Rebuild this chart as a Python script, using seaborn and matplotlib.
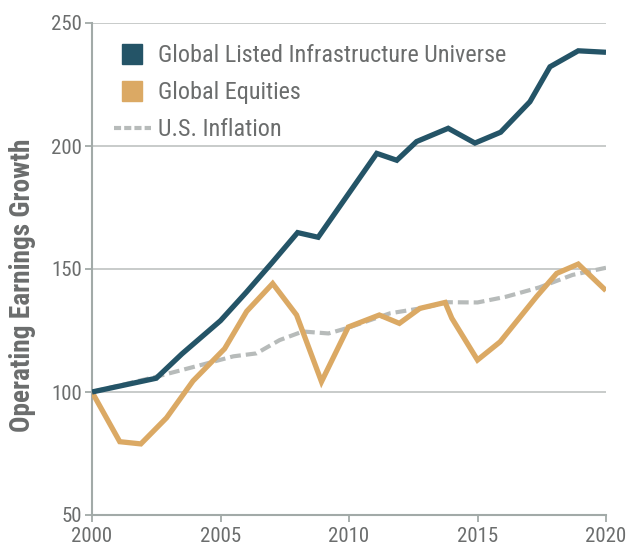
import matplotlib
matplotlib.use("Agg")
import matplotlib.pyplot as plt
from matplotlib.lines import Line2D
import seaborn as sns
import pandas as pd

# ---- data ----
infra_x = [2000, 2002.5, 2003.5, 2005, 2006, 2007, 2008, 2008.8, 2011.08, 2011.86,
           2012.63, 2013.86, 2014.9, 2015.9, 2017.04, 2017.82, 2018.92, 2020]
infra_y = [100, 105.6, 115.5, 129, 140.5, 152.5, 164.8, 162.9, 197, 194.2,
           201.8, 207.2, 201.2, 205.6, 218, 232.2, 238.7, 238.1]

equity_x = [2000, 2001.08, 2001.9, 2002.9, 2003.93, 2005.16, 2006.02, 2007.03, 2007.96,
            2008.93, 2009.97, 2011.18, 2011.96, 2012.76, 2013.74, 2014.0, 2015.0,
            2015.88, 2017.3, 2018.08, 2018.92, 2020]
equity_y = [100, 79.8, 78.9, 89.5, 104.5, 117.6, 132.8, 144.1, 131.3,
            104.2, 126.4, 131.3, 127.9, 134, 136.4, 130, 113,
            120.4, 138.8, 148.2, 152, 141.2]

infl_x = [2000, 2002.5, 2004.25, 2005.5, 2006.4, 2007.3, 2008.2, 2009.2, 2009.9,
          2011.6, 2012.9, 2013.8, 2015.0, 2016.1, 2017.4, 2018.7, 2020]
infl_y = [100, 106.2, 111, 114.5, 115.7, 121.1, 124.6, 123.8, 125.9,
          132, 134.2, 136.5, 136.4, 138.7, 142.5, 147.6, 150.5]

series_names = ["Global Listed Infrastructure Universe", "Global Equities", "U.S. Inflation"]
y_ticks = [50, 100, 150, 200, 250]
x_ticks = [2000, 2005, 2010, 2015, 2020]
y_label = "Operating Earnings Growth"

# ---- style ----
sns.set_theme(style="white")
plt.rcParams['font.family'] = ['Roboto Condensed', 'Liberation Sans Narrow', 'Roboto', 'DejaVu Sans']

C_INFRA = "#245467"
C_EQ = "#dba964"
C_INFL = "#b7bbba"
C_TEXT = "#6b6d6d"
C_AXIS = "#a2aaa8"
C_GRID = "#c4c7c6"

fig = plt.figure(figsize=(6.28, 5.46), dpi=100)
ax = fig.add_axes([92/628, 31/546, 514/628, 492/546])

df_i = pd.DataFrame({"x": infl_x, "y": infl_y})
df_e = pd.DataFrame({"x": equity_x, "y": equity_y})
df_f = pd.DataFrame({"x": infra_x, "y": infra_y})

for yv in y_ticks[1:]:
    ax.axhline(yv, color=C_GRID, lw=1.3, zorder=0)

sns.lineplot(data=df_i, x="x", y="y", ax=ax, color=C_INFL, lw=3.0, sort=False,
             dashes=False, linestyle=(0, (2.6, 1.2)), zorder=2)
sns.lineplot(data=df_e, x="x", y="y", ax=ax, color=C_EQ, lw=3.8, sort=False, zorder=3)
sns.lineplot(data=df_f, x="x", y="y", ax=ax, color=C_INFRA, lw=3.8, sort=False, zorder=4)
for ln in ax.lines:
    ln.set_solid_joinstyle("miter")
    ln.set_solid_capstyle("butt")

ax.set_xlim(2000, 2020)
ax.set_ylim(50, 250)
ax.set_xticks(x_ticks)
ax.set_yticks(y_ticks)
ax.tick_params(axis="both", colors=C_AXIS, labelcolor=C_TEXT, labelsize=15,
               length=5, width=1.3, direction="out", left=True, bottom=True)
ax.tick_params(axis="x", pad=4)
ax.tick_params(axis="y", pad=2)

for s in ["top", "right"]:
    ax.spines[s].set_visible(False)
for s in ["left", "bottom"]:
    ax.spines[s].set_color(C_AXIS)
    ax.spines[s].set_linewidth(1.5)

ax.set_xlabel("")
ax.set_ylabel(y_label, fontsize=19.7, fontweight="bold", color=C_TEXT)
ax.yaxis.set_label_coords((36 - 92) / 514, (515 - 285) / 492)

handles = [
    Line2D([], [], marker="s", linestyle="none", markersize=15, color=C_INFRA),
    Line2D([], [], marker="s", linestyle="none", markersize=15, color=C_EQ),
    Line2D([], [], color=C_INFL, lw=3.0, linestyle=(0, (1.7, 0.75))),
]
leg = ax.legend(handles, series_names, loc="upper left",
                bbox_to_anchor=((114 - 92) / 514, (515 - 44) / 492),
                frameon=False, borderpad=0, borderaxespad=0, handlelength=1.53,
                handletextpad=0.3, labelspacing=0.58,
                prop={"size": 17.4}, labelcolor=C_TEXT)

fig.savefig("out.png", dpi=100)
